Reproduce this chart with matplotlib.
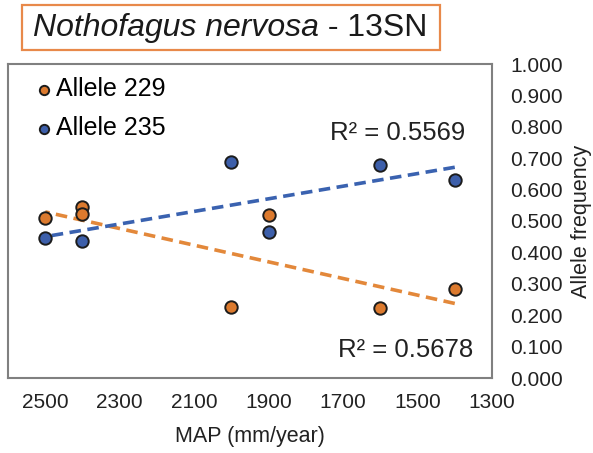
import numpy as np
import matplotlib
matplotlib.use("Agg")
import matplotlib.pyplot as plt
from matplotlib.patches import Rectangle

plt.rcParams["font.family"] = ["Liberation Sans", "DejaVu Sans"]

# MAP (mm/year) per population
map_229 = [2500, 2400, 2400, 2000, 1900, 1600, 1400]
freq_229 = [0.510, 0.545, 0.522, 0.226, 0.519, 0.223, 0.283]

map_235 = [2500, 2400, 2000, 1900, 1600, 1400]
freq_235 = [0.446, 0.436, 0.688, 0.465, 0.678, 0.631]

x_ticks = [2500, 2300, 2100, 1900, 1700, 1500, 1300]
y_ticks = [0.0, 0.1, 0.2, 0.3, 0.4, 0.5, 0.6, 0.7, 0.8, 0.9, 1.0]

r2_229 = "R² = 0.5678"
r2_235 = "R² = 0.5569"

orange = "#DC7A2E"
orange_line = "#E3883A"
blue = "#3D5FAA"
blue_line = "#3A62B0"
edge = "#1c1c1c"
txt = "#222222"

fig = plt.figure(figsize=(5.93, 4.53), dpi=100)
ax = fig.add_axes([8 / 593, 1 - 378 / 453, (492 - 8) / 593, (378 - 64) / 453])

ax.scatter(map_229, freq_229, s=80, color=orange, edgecolors=edge,
           linewidths=1.4, zorder=3, label="Allele 229")
ax.scatter(map_235, freq_235, s=80, color=blue, edgecolors=edge,
           linewidths=1.4, zorder=3, label="Allele 235")

# linear trend lines
for xs, ys, col in [(map_229, freq_229, orange_line), (map_235, freq_235, blue_line)]:
    slope, intercept = np.polyfit(xs, ys, 1)
    xl = np.array([min(xs), max(xs)])
    ax.plot(xl, slope * xl + intercept, color=col, lw=2.6,
            dashes=(3.2, 1.8), zorder=2)

ax.set_xlim(2600, 1300)
ax.set_ylim(0, 1)
ax.set_xticks(x_ticks)
ax.set_yticks(y_ticks)
ax.yaxis.tick_right()
ax.set_yticklabels([f"{v:.3f}" for v in y_ticks])
ax.tick_params(axis="both", length=0, labelsize=15, colors=txt)
ax.tick_params(axis="y", pad=13)
ax.tick_params(axis="x", pad=11)

for sp in ax.spines.values():
    sp.set_color("#808080")
    sp.set_linewidth(1.5)

ax.set_xlabel("MAP (mm/year)", fontsize=15.5, color=txt, labelpad=10)
fig.text(592 / 593, 0.5 + (226 - 221) / 453, "Allele frequency", rotation=90,
         ha="right", va="center", fontsize=15.5, color=txt)

ax.text(1373, 0.78, r2_235, ha="right", va="center", fontsize=18.5, color=txt)
ax.text(1351, 0.088, r2_229, ha="right", va="center", fontsize=18.5, color=txt)

ax.legend(loc="upper left", bbox_to_anchor=(0.043, 0.99), frameon=False,
          fontsize=18, handlelength=0.4, handletextpad=0.3,
          labelspacing=0.6, markerscale=0.75, borderaxespad=0)

# title box
t1 = fig.text(33 / 593, 1 - 28 / 453, "Nothofagus nervosa", style="italic",
              fontsize=23, va="center", ha="left", color="#1a1a1a")
fig.canvas.draw()
bb = t1.get_window_extent()
fig.text(bb.x1 / 593, 1 - 28 / 453, " - 13SN", fontsize=23,
         va="center", ha="left", color="#1a1a1a")

fig.patches.append(Rectangle((22 / 593, 1 - 50 / 453), (440 - 22) / 593, 45 / 453,
                             transform=fig.transFigure, fill=False,
                             edgecolor="#E8894A", linewidth=1.6))

fig.savefig("out.png", dpi=100)
